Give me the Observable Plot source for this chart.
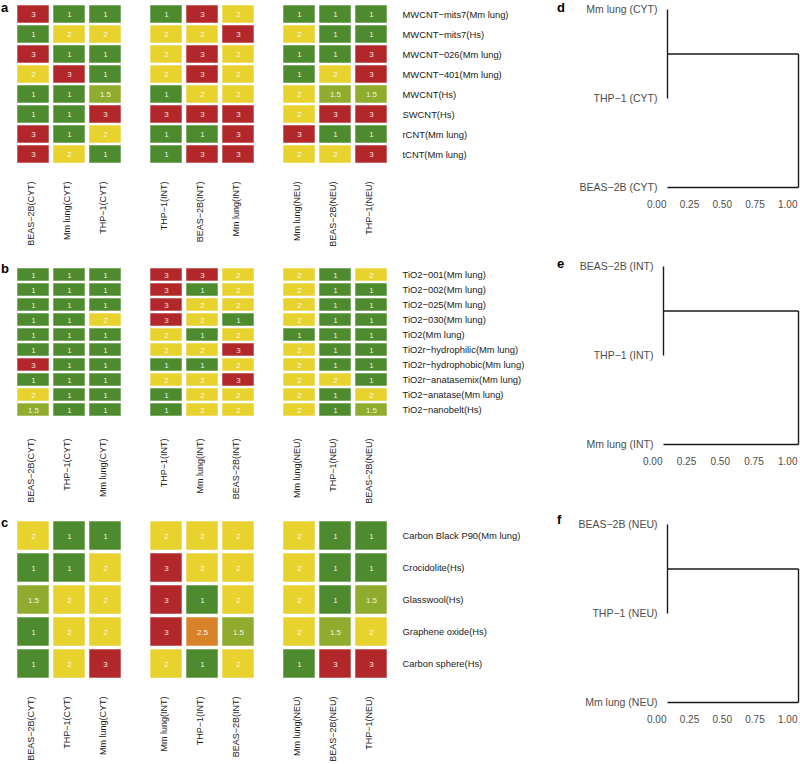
<!DOCTYPE html>
<html>
<head>
<meta charset="utf-8">
<script src="https://cdn.jsdelivr.net/npm/d3@7"></script>
<script src="https://cdn.jsdelivr.net/npm/@observablehq/plot@0.6"></script>
<style>
  body { margin: 0; background: #fff; font-family: "Liberation Sans", Arial, Helvetica, sans-serif; }
  #root { position: relative; width: 800px; height: 764px; overflow: hidden; background: #fff; }
  .panel { position: absolute; }
  .tag { position: absolute; font-weight: bold; font-size: 13px; line-height: 13px; color: #000; }
</style>
</head>
<body>
<div id="root"></div>
<script>
// ---------------- DATA ----------------
const groups = ["CYT", "INT", "NEU"];
const levels = [1, 1.5, 2, 2.5, 3];
const palette = ["#4e8a2e", "#8fac2e", "#e8d22e", "#d8822a", "#b2282a"];

// Panel a
const aColumns = ["BEAS−2B(CYT)", "Mm lung(CYT)", "THP−1(CYT)",
                  "THP−1(INT)", "BEAS−2B(INT)", "Mm lung(INT)",
                  "Mm lung(NEU)", "BEAS−2B(NEU)", "THP−1(NEU)"];
const aRows = ["MWCNT−mits7(Mm lung)", "MWCNT−mits7(Hs)", "MWCNT−026(Mm lung)", "MWCNT−401(Mm lung)",
               "MWCNT(Hs)", "SWCNT(Hs)", "rCNT(Mm lung)", "tCNT(Mm lung)"];
const aValues = [
  [3, 1, 1,   1, 3, 2,   1, 1, 1],
  [1, 2, 2,   2, 2, 3,   2, 1, 1],
  [3, 1, 1,   2, 3, 2,   1, 1, 3],
  [2, 3, 1,   2, 3, 2,   1, 2, 3],
  [1, 1, 1.5, 1, 2, 2,   2, 1.5, 1.5],
  [1, 1, 3,   3, 3, 3,   2, 3, 3],
  [3, 1, 2,   1, 1, 3,   3, 1, 1],
  [3, 2, 1,   1, 3, 3,   2, 2, 3]
];

// Panel b
const bColumns = ["BEAS−2B(CYT)", "THP−1(CYT)", "Mm lung(CYT)",
                  "THP−1(INT)", "Mm lung(INT)", "BEAS−2B(INT)",
                  "Mm lung(NEU)", "THP−1(NEU)", "BEAS−2B(NEU)"];
const bRows = ["TiO2−001(Mm lung)", "TiO2−002(Mm lung)", "TiO2−025(Mm lung)", "TiO2−030(Mm lung)",
               "TiO2(Mm lung)", "TiO2r−hydrophilic(Mm lung)", "TiO2r−hydrophobic(Mm lung)",
               "TiO2r−anatasemix(Mm lung)", "TiO2−anatase(Mm lung)", "TiO2−nanobelt(Hs)"];
const bValues = [
  [1, 1, 1,   3, 3, 2,   2, 1, 2],
  [1, 1, 1,   3, 1, 2,   2, 1, 1],
  [1, 1, 1,   3, 2, 2,   2, 1, 1],
  [1, 1, 2,   3, 2, 1,   2, 1, 1],
  [1, 1, 1,   2, 1, 2,   1, 1, 1],
  [1, 1, 1,   2, 2, 3,   2, 1, 1],
  [3, 1, 1,   1, 1, 2,   2, 1, 1],
  [1, 1, 1,   2, 2, 3,   2, 2, 1],
  [2, 1, 1,   1, 2, 2,   2, 1, 2],
  [1.5, 1, 1, 1, 2, 2,   2, 1, 1.5]
];

// Panel c
const cColumns = ["BEAS−2B(CYT)", "THP−1(CYT)", "Mm lung(CYT)",
                  "Mm lung(INT)", "THP−1(INT)", "BEAS−2B(INT)",
                  "Mm lung(NEU)", "BEAS−2B(NEU)", "THP−1(NEU)"];
const cRows = ["Carbon Black P90(Mm lung)", "Crocidolite(Hs)", "Glasswool(Hs)", "Graphene oxide(Hs)", "Carbon sphere(Hs)"];
const cValues = [
  [2, 1, 1,     2, 2, 2,       2, 1, 1],
  [1, 1, 2,     3, 2, 2,       2, 1, 1],
  [1.5, 2, 2,   3, 1, 2,       2, 1, 1.5],
  [1, 2, 2,     3, 2.5, 1.5,   2, 1.5, 2],
  [1, 2, 3,     2, 1, 2,       1, 3, 3]
];

// Dendrograms (leaves top to bottom; R-style merge matrix and merge heights)
const dLeaves = ["Mm lung (CYT)", "THP−1 (CYT)", "BEAS−2B (CYT)"];
const eLeaves = ["BEAS−2B (INT)", "THP−1 (INT)", "Mm lung (INT)"];
const fLeaves = ["BEAS−2B (NEU)", "THP−1 (NEU)", "Mm lung (NEU)"];
const treeMerge = [[-1, -2], [1, -3]];
const dHeights = [0, 1.0];
const eHeights = [0, 1.0];
const fHeights = [0, 1.0];
const heightTicks = [0, 0.25, 0.5, 0.75, 1.0];

// ---------------- DRAWING ----------------
const font = '"Liberation Sans", Arial, Helvetica, sans-serif';
const root = document.getElementById("root");

function place(node, left, top) {
  const wrap = document.createElement("div");
  wrap.className = "panel";
  wrap.style.left = left + "px";
  wrap.style.top = top + "px";
  wrap.appendChild(node);
  root.appendChild(wrap);
}
function tag(letter, left, top) {
  const t = document.createElement("div");
  t.className = "tag";
  t.textContent = letter;
  t.style.left = left + "px";
  t.style.top = top + "px";
  root.appendChild(t);
}
const groupOf = (c) => c.match(/\(([A-Z]+)\)$/)[1];

function heatmap({rows, columns, values, marginTop, gridHeight, marginBottom, yPad}) {
  const cells = [];
  rows.forEach((r, i) => columns.forEach((c, j) =>
    cells.push({row: r, group: groupOf(c), pos: j % 3, value: values[i][j]})));
  const cols = columns.map((c, j) => ({label: c, group: groupOf(c), pos: j % 3}));
  return Plot.plot({
    width: 540,
    height: marginTop + gridHeight + marginBottom,
    marginLeft: 15, marginRight: 150, marginTop, marginBottom,
    style: {fontFamily: font, fontSize: "9.4px", color: "#1a1a1a", overflow: "visible", background: "transparent"},
    fx: {domain: groups, paddingInner: 0.2, paddingOuter: 0, axis: null, label: null},
    x: {domain: [0, 1, 2], paddingInner: 0.11, paddingOuter: 0, axis: null},
    y: {domain: rows, paddingInner: yPad, paddingOuter: 0, axis: "right", tickSize: 0, tickPadding: 14, label: null},
    color: {type: "ordinal", domain: levels, range: palette},
    marks: [
      Plot.cell(cells, {x: "pos", y: "row", fx: "group", fill: "value",
                        stroke: "white", strokeOpacity: 0.55, strokeWidth: 1}),
      Plot.text(cells, {x: "pos", y: "row", fx: "group", text: (d) => String(d.value),
                        fill: "white", fillOpacity: 0.9, fontSize: 8}),
      Plot.text(cols, {x: "pos", fx: "group", text: "label", frameAnchor: "bottom",
                       rotate: -90, textAnchor: "end", dy: 18, fontSize: 9, fill: "#1a1a1a"})
    ]
  });
}

function dendroSegments(merge, heights) {
  const nodes = [];
  const pos = (k) => (k < 0 ? {y: -k, h: 0} : nodes[k - 1]);
  const segs = [];
  merge.forEach(([a, b], i) => {
    const A = pos(a), B = pos(b), h = heights[i];
    segs.push({x1: A.h, y1: A.y, x2: h, y2: A.y});
    segs.push({x1: B.h, y1: B.y, x2: h, y2: B.y});
    segs.push({x1: h, y1: A.y, x2: h, y2: B.y});
    nodes.push({y: (A.y + B.y) / 2, h});
  });
  return segs;
}

function dendro({leaves, heights, marginLeft, marginTop}) {
  const segs = dendroSegments(treeMerge, heights);
  return Plot.plot({
    width: 260,
    height: marginTop + 178 + 30,
    marginLeft, marginRight: 2, marginTop, marginBottom: 30,
    style: {fontFamily: font, fontSize: "10px", color: "#4d4d4d", overflow: "visible", background: "transparent"},
    x: {domain: [0, 1]},
    y: {domain: [1, leaves.length], reverse: true},
    marks: [
      Plot.axisX({ticks: heightTicks, tickFormat: d3.format(".2f"), tickSize: 0, tickPadding: 13,
                  textAnchor: "end", dx: -1, label: null, fontSize: 10}),
      Plot.axisY({ticks: leaves.map((_, i) => i + 1), tickFormat: (i) => leaves[i - 1],
                  tickSize: 0, tickPadding: 10, label: null, fontSize: 10.5}),
      Plot.link(segs, {x1: "x1", y1: "y1", x2: "x2", y2: "y2", stroke: "#1a1a1a", strokeWidth: 1.4})
    ]
  });
}

place(heatmap({rows: aRows, columns: aColumns, values: aValues, marginTop: 5, gridHeight: 158, marginBottom: 87, yPad: 0.12}), 0, 0);
place(heatmap({rows: bRows, columns: bColumns, values: bValues, marginTop: 14, gridHeight: 156, marginBottom: 90, yPad: 0.15}), 0, 250);
place(heatmap({rows: cRows, columns: cColumns, values: cValues, marginTop: 10, gridHeight: 158, marginBottom: 86, yPad: 0.1}), 0, 510);

place(dendro({leaves: dLeaves, heights: dHeights, marginLeft: 127, marginTop: 9}), 540, 0);
place(dendro({leaves: eLeaves, heights: eHeights, marginLeft: 123, marginTop: 16}), 540, 250);
place(dendro({leaves: fLeaves, heights: fHeights, marginLeft: 127, marginTop: 24}), 540, 500);

tag("a", 1, 1);
tag("b", 1, 262);
tag("c", 1, 516);
tag("d", 557, 1);
tag("e", 557, 257);
tag("f", 557, 513);
</script>
</body>
</html>
